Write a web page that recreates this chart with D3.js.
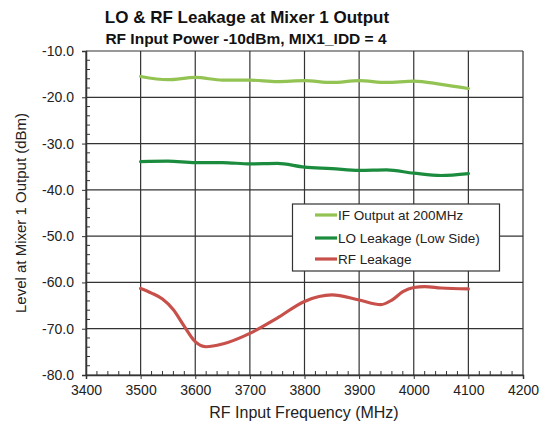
<!DOCTYPE html>
<html><head><meta charset="utf-8">
<script src="https://cdn.jsdelivr.net/npm/d3@7"></script>
<style>body{margin:0;background:#fff}svg{font-family:"Liberation Sans",Arial,sans-serif}</style>
</head><body><svg id="c" width="548" height="425"></svg>
<script>
const freqIF = [3500,3550,3600,3650,3700,3750,3800,3850,3900,3950,4000,4050,4100];
const ifOutput = [-15.5,-16.2,-15.7,-16.3,-16.3,-16.6,-16.4,-16.8,-16.4,-16.8,-16.5,-17.2,-18.1];
const loLeakage = [-33.9,-33.8,-34.1,-34.1,-34.4,-34.3,-35.1,-35.4,-35.8,-35.7,-36.4,-36.9,-36.5];
const freqRF = [3500,3520,3540,3560,3580,3600,3620,3650,3700,3750,3800,3850,3900,3940,3960,3980,4000,4020,4050,4100];
const rfLeakage = [-61.3,-62.3,-63.6,-65.9,-69.5,-72.8,-73.9,-73.3,-71.0,-67.7,-64.1,-62.7,-63.8,-64.8,-63.8,-62.0,-61.1,-60.9,-61.2,-61.4];
const seriesNames = ["IF Output at 200MHz","LO Leakage (Low Side)","RF Leakage"];
const seriesColors = ["#92c353","#1b8c3e","#c8504b"];
const xTicks = [3400,3500,3600,3700,3800,3900,4000,4100,4200];
const yTicks = [-10,-20,-30,-40,-50,-60,-70,-80];
const titleText = "LO & RF Leakage at Mixer 1 Output";
const subtitleText = "RF Input Power -10dBm, MIX1_IDD = 4";
const xTitle = "RF Input Frequency (MHz)";
const yTitle = "Level at Mixer 1 Output (dBm)";

const svg = d3.select("#c");
const L=86,R=523,T=51,B=375;
const x = d3.scaleLinear().domain([3400,4200]).range([L,R]);
const y = d3.scaleLinear().domain([-80,-10]).range([B,T]);

// grid
svg.append("g").selectAll("line").data(xTicks).join("line")
  .attr("x1",d=>x(d)).attr("x2",d=>x(d)).attr("y1",T).attr("y2",B)
  .attr("stroke","#333").attr("stroke-width",1.2);
svg.append("g").selectAll("line").data(yTicks).join("line")
  .attr("x1",L).attr("x2",R).attr("y1",d=>y(d)).attr("y2",d=>y(d))
  .attr("stroke","#333").attr("stroke-width",1.2);

// axes
const xMinor = d3.range(3400,4201,20).filter(v=>v%100!==0);
const yMinor = d3.range(-80,-9,2).filter(v=>v%10!==0);
const ax = svg.append("g").attr("transform",`translate(0,${B})`)
  .call(d3.axisBottom(x).tickValues(xTicks).tickFormat(d3.format("d")).tickSize(4).tickPadding(6));
ax.select(".domain").attr("stroke","#333").attr("stroke-width",1.5);
ax.selectAll(".tick line").attr("stroke","#333");
ax.selectAll("text").attr("font-size",14).attr("fill","#222");
svg.append("g").selectAll("line").data(xMinor).join("line")
  .attr("x1",d=>x(d)).attr("x2",d=>x(d)).attr("y1",B).attr("y2",B-4).attr("stroke","#333");

const ay = svg.append("g").attr("transform",`translate(${L},0)`)
  .call(d3.axisLeft(y).tickValues(yTicks).tickFormat(d3.format(".1f")).tickSize(4).tickPadding(8));
ay.select(".domain").attr("stroke","#333").attr("stroke-width",1.5);
ay.selectAll(".tick line").attr("stroke","#333");
ay.selectAll("text").attr("font-size",14).attr("fill","#222").text(d=>d3.format(".1f")(d).replace("−","-"));
svg.append("g").selectAll("line").data(yMinor).join("line")
  .attr("x1",L).attr("x2",L+4).attr("y1",d=>y(d)).attr("y2",d=>y(d)).attr("stroke","#333");

// lines
const line = d3.line().x(d=>x(d[0])).y(d=>y(d[1])).curve(d3.curveMonotoneX);
const data = [d3.zip(freqIF,ifOutput), d3.zip(freqIF,loLeakage), d3.zip(freqRF,rfLeakage)];
svg.append("g").selectAll("path").data(data).join("path")
  .attr("d",line).attr("fill","none")
  .attr("stroke",(d,i)=>seriesColors[i]).attr("stroke-width",3.2).attr("stroke-linecap","round");

// legend
const lg = svg.append("g");
lg.append("rect").attr("x",292.5).attr("y",204).attr("width",207).attr("height",67)
  .attr("fill","#fff").attr("stroke","#333").attr("stroke-width",1.2);
const rows=[215,238,259];
seriesNames.forEach((n,i)=>{
  lg.append("line").attr("x1",315).attr("x2",337).attr("y1",rows[i]).attr("y2",rows[i])
    .attr("stroke",seriesColors[i]).attr("stroke-width",3.2);
  lg.append("text").attr("x",338).attr("y",rows[i]+5).attr("font-size",13.5).attr("fill","#222").text(n);
});

// titles
svg.append("text").attr("x",247).attr("y",23).attr("text-anchor","middle")
  .attr("font-size",17).attr("font-weight","bold").attr("fill","#111").text(titleText);
svg.append("text").attr("x",246).attr("y",44).attr("text-anchor","middle")
  .attr("font-size",15.5).attr("font-weight","bold").attr("fill","#111").text(subtitleText);
svg.append("text").attr("x",304).attr("y",418).attr("text-anchor","middle")
  .attr("font-size",16).attr("fill","#222").text(xTitle);
svg.append("text").attr("transform",`translate(26,${(T+B)/2}) rotate(-90)`).attr("text-anchor","middle")
  .attr("font-size",15).attr("fill","#222").text(yTitle);
</script></body></html>
